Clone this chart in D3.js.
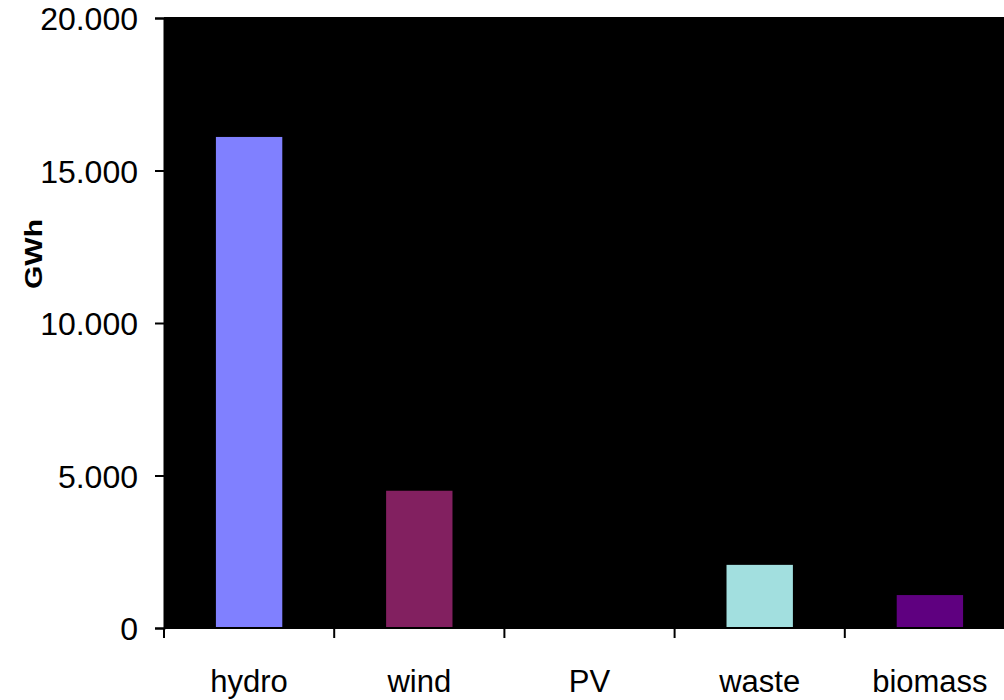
<!DOCTYPE html>
<html>
<head>
<meta charset="utf-8">
<script src="https://cdn.jsdelivr.net/npm/d3@7"></script>
<style>
  html, body { margin: 0; padding: 0; background: #fff; overflow: hidden; }
  svg { display: block; }
  text { font-family: "Liberation Sans", Arial, sans-serif; fill: #000; }
</style>
</head>
<body>
<svg id="chart" width="1004" height="700"></svg>
<script>
// Electricity generation by renewable source (GWh)
const categories = ["hydro", "wind", "PV", "waste", "biomass"];
const values = [16100, 4500, 0, 2070, 1080];
const colors = ["#8080FF", "#822060", "#FFFFCC", "#A2DFDF", "#5F0080"];
const yTicks = [0, 5000, 10000, 15000, 20000];
const yLabel = "GWh";

const svg = d3.select("#chart");
const plotLeft = 164, plotTop = 18, plotBottom = 628, step = 170.2;
const plotRight = plotLeft + step * categories.length;

const locale = d3.formatLocale({ decimal: ",", thousands: ".", grouping: [3], currency: ["", ""] });
const fmt = locale.format(",.0f");

const x = d3.scaleBand()
  .domain(categories)
  .range([plotLeft, plotRight])
  .paddingInner(0.61)
  .paddingOuter(0.305);

const y = d3.scaleLinear().domain([0, 20000]).range([plotBottom, plotTop]);

// plot area
svg.append("rect")
  .attr("x", plotLeft).attr("y", plotTop - 1)
  .attr("width", plotRight - plotLeft).attr("height", plotBottom - plotTop + 1)
  .attr("fill", "#000");

// bars
svg.append("g").selectAll("rect")
  .data(categories)
  .join("rect")
  .attr("x", d => x(d))
  .attr("width", x.bandwidth())
  .attr("y", (d, i) => y(values[i]))
  .attr("height", (d, i) => y(0) - y(values[i]))
  .attr("fill", (d, i) => colors[i]);

// y axis
const yAxis = svg.append("g")
  .attr("transform", `translate(${plotLeft},0)`)
  .call(d3.axisLeft(y).tickValues(yTicks).tickFormat(fmt).tickSize(9).tickPadding(17));
yAxis.select(".domain").attr("stroke", "#000").attr("stroke-width", 2);
yAxis.selectAll(".tick line").attr("stroke", "#000").attr("stroke-width", 2);
yAxis.selectAll(".tick text")
  .style("font-size", "32px")
  .attr("dy", "0.36em");

// x axis: ticks on category boundaries
const boundaries = d3.range(categories.length + 1).map(i => plotLeft + i * step);
const xAxisG = svg.append("g");
xAxisG.append("line")
  .attr("x1", plotLeft).attr("x2", plotRight)
  .attr("y1", plotBottom).attr("y2", plotBottom)
  .attr("stroke", "#000").attr("stroke-width", 2);
xAxisG.selectAll("line.tk")
  .data(boundaries)
  .join("line")
  .attr("class", "tk")
  .attr("x1", d => d).attr("x2", d => d)
  .attr("y1", plotBottom).attr("y2", plotBottom + 10)
  .attr("stroke", "#000").attr("stroke-width", 2);
xAxisG.selectAll("text")
  .data(categories)
  .join("text")
  .attr("x", d => x(d) + x.bandwidth() / 2)
  .attr("y", 692)
  .attr("text-anchor", "middle")
  .style("font-size", "31px")
  .text(d => d);

// y axis title
svg.append("text")
  .attr("transform", "translate(42,254) rotate(-90)")
  .attr("text-anchor", "middle")
  .attr("textLength", 70)
  .attr("lengthAdjust", "spacingAndGlyphs")
  .style("font-size", "23px")
  .style("font-weight", "bold")
  .text(yLabel);
</script>
</body>
</html>
